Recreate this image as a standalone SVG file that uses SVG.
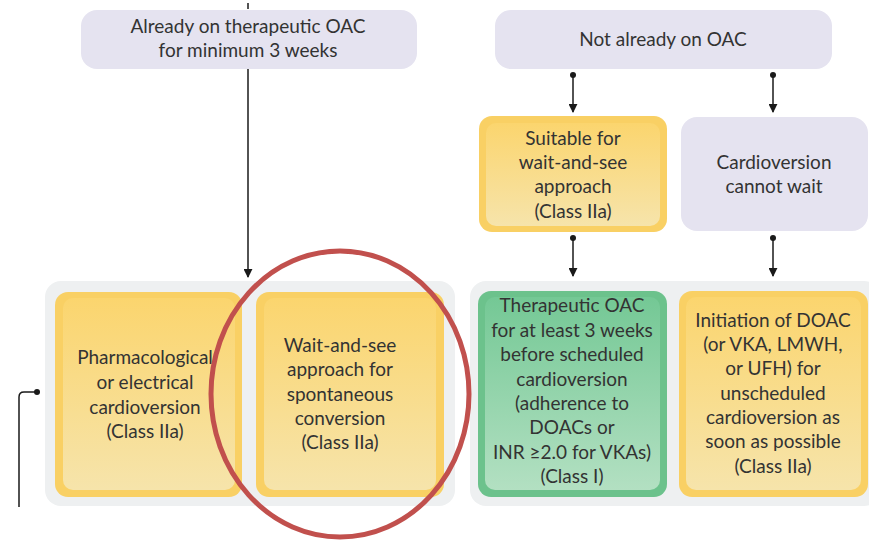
<svg xmlns="http://www.w3.org/2000/svg" width="869" height="543" viewBox="0 0 869 543">
  <defs>
    <linearGradient id="yellowFill" x1="0" y1="0" x2="0" y2="1">
      <stop offset="0" stop-color="#fbd56e"/>
      <stop offset="1" stop-color="#f6e4ab"/>
    </linearGradient>
    <linearGradient id="greenFill" x1="0" y1="0" x2="0" y2="1">
      <stop offset="0" stop-color="#74c895"/>
      <stop offset="1" stop-color="#b3e0c2"/>
    </linearGradient>
    <marker id="arrow" viewBox="0 0 10 10" refX="9" refY="5" markerWidth="9" markerHeight="9" markerUnits="userSpaceOnUse" orient="auto">
      <path d="M0,0 L10,5 L0,10 Z" fill="#1a1a1a"/>
    </marker>
    <marker id="dot" viewBox="0 0 6 6" refX="3" refY="3" markerWidth="6" markerHeight="6" markerUnits="userSpaceOnUse">
      <circle cx="3" cy="3" r="3" fill="#1a1a1a"/>
    </marker>
  </defs>
  <style>
    .lav { fill: #e5e3f0; }
    .panel { fill: #eef0f1; }
    .yOuter { fill: #f9d064; }
    .gOuter { fill: #6cc28c; }
    .txt { font-family: Lato, "Open Sans", "Liberation Sans", sans-serif; font-size: 19px; fill: #333333; text-anchor: middle; }
    .conn { stroke: #1a1a1a; stroke-width: 1.5; fill: none; }
  </style>

  <rect width="869" height="543" fill="#ffffff"/>

  <!-- background panels -->
  <rect class="panel" x="45" y="281" width="410" height="225" rx="16"/>
  <rect class="panel" x="470" y="281" width="410" height="225" rx="16"/>

  <g id="connectors">
    <line class="conn" x1="248" y1="3" x2="248" y2="9"/>
    <line class="conn" x1="248" y1="69" x2="248" y2="277" marker-end="url(#arrow)"/>
    <line class="conn" x1="573" y1="75" x2="573" y2="112" marker-start="url(#dot)" marker-end="url(#arrow)"/>
    <line class="conn" x1="773" y1="75" x2="773" y2="112" marker-start="url(#dot)" marker-end="url(#arrow)"/>
    <line class="conn" x1="573" y1="238" x2="573" y2="276" marker-start="url(#dot)" marker-end="url(#arrow)"/>
    <line class="conn" x1="773" y1="238" x2="773" y2="276" marker-start="url(#dot)" marker-end="url(#arrow)"/>
    <path class="conn" d="M37,392 H24 Q19,392 19,397 V507" marker-start="url(#dot)"/>
  </g>

  <g id="node-already-on-oac">
    <rect class="lav" x="81" y="10" width="336" height="59" rx="16"/>
    <text class="txt" x="248" y="33">Already on therapeutic OAC</text>
    <text class="txt" x="248" y="57">for minimum 3 weeks</text>
  </g>

  <g id="node-not-on-oac">
    <rect class="lav" x="495" y="10" width="337" height="59" rx="16"/>
    <text class="txt" x="663" y="46">Not already on OAC</text>
  </g>

  <g id="node-suitable-wait">
    <rect class="yOuter" x="479" y="116" width="188" height="116" rx="13"/>
    <rect fill="url(#yellowFill)" x="486" y="123" width="174" height="103" rx="10"/>
    <text class="txt" x="573" y="145">Suitable for</text>
    <text class="txt" x="573" y="169">wait-and-see</text>
    <text class="txt" x="573" y="193">approach</text>
    <text class="txt" x="573" y="218">(Class IIa)</text>
  </g>

  <g id="node-cannot-wait">
    <rect class="lav" x="681" y="117" width="187" height="114" rx="16"/>
    <text class="txt" x="774" y="169">Cardioversion</text>
    <text class="txt" x="774" y="193">cannot wait</text>
  </g>

  <g id="node-pharmacological">
    <rect class="yOuter" x="55" y="292" width="187" height="205" rx="13"/>
    <rect fill="url(#yellowFill)" x="63" y="298" width="172" height="192" rx="10"/>
    <text class="txt" x="145" y="364">Pharmacological</text>
    <text class="txt" x="145" y="389">or electrical</text>
    <text class="txt" x="145" y="414">cardioversion</text>
    <text class="txt" x="145" y="438">(Class IIa)</text>
  </g>

  <g id="node-wait-and-see">
    <rect class="yOuter" x="256" y="292" width="188" height="205" rx="13"/>
    <rect fill="url(#yellowFill)" x="264" y="298" width="172" height="192" rx="10"/>
    <text class="txt" x="340" y="352">Wait-and-see</text>
    <text class="txt" x="340" y="376">approach for</text>
    <text class="txt" x="340" y="401">spontaneous</text>
    <text class="txt" x="340" y="425">conversion</text>
    <text class="txt" x="340" y="449">(Class IIa)</text>
  </g>

  <g id="node-therapeutic-oac">
    <rect class="gOuter" x="478" y="291" width="189" height="206" rx="13"/>
    <rect fill="url(#greenFill)" x="485" y="297" width="175" height="193" rx="10"/>
    <text class="txt" x="572" y="312">Therapeutic OAC</text>
    <text class="txt" x="572" y="337">for at least 3 weeks</text>
    <text class="txt" x="572" y="361">before scheduled</text>
    <text class="txt" x="572" y="386">cardioversion</text>
    <text class="txt" x="572" y="410">(adherence to</text>
    <text class="txt" x="572" y="434">DOACs or</text>
    <text class="txt" x="572" y="459">INR ≥2.0 for VKAs)</text>
    <text class="txt" x="572" y="483">(Class I)</text>
  </g>

  <g id="node-initiation-doac">
    <rect class="yOuter" x="679" y="291" width="189" height="206" rx="13"/>
    <rect fill="url(#yellowFill)" x="686" y="297" width="175" height="193" rx="10"/>
    <text class="txt" x="773" y="327">Initiation of DOAC</text>
    <text class="txt" x="773" y="351">(or VKA, LMWH,</text>
    <text class="txt" x="773" y="375">or UFH) for</text>
    <text class="txt" x="773" y="400">unscheduled</text>
    <text class="txt" x="773" y="424">cardioversion as</text>
    <text class="txt" x="773" y="448">soon as possible</text>
    <text class="txt" x="773" y="473">(Class IIa)</text>
  </g>

  <!-- red highlight ring -->
  <ellipse id="highlight" cx="340" cy="394" rx="129" ry="143" fill="none" stroke="#c1504d" stroke-width="5"/>
</svg>
